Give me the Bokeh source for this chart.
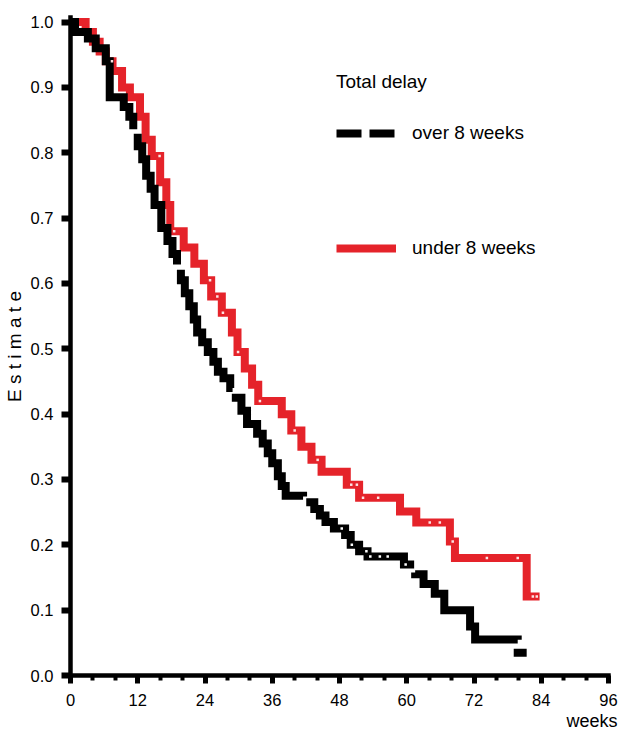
import numpy as np
from bokeh.plotting import figure
from bokeh.models import (Range1d, FixedTicker, NumeralTickFormatter, Legend,
                          LegendItem, Title)
from bokeh.embed import file_html
from bokeh.resources import INLINE

# ---------------- data ----------------
# Kaplan-Meier steps: time of each drop (weeks) and estimate after the drop
over_t = [0, 0.8, 3.1, 4.5, 6.3, 7.0, 9.5, 10.5, 11.2, 12.0, 12.8, 13.5, 14.3,
          15.0, 16.2, 17.3, 18.2, 19.0, 19.7, 20.4, 21.2, 22.0, 22.6, 23.5,
          24.5, 25.5, 26.3, 27.3, 28.5, 29.5, 30.5, 31.5, 33.3, 34.3, 35.2,
          36.0, 37.0, 37.7, 38.4, 41.5, 43.5, 44.5, 45.5, 47.0, 49.0, 50.0,
          51.5, 53.0, 59.5, 61.5, 63.0, 65.0, 66.7, 71.3, 72.2, 79.8]
over_s = [1.0, 0.985, 0.975, 0.96, 0.94, 0.885, 0.87, 0.855, 0.835, 0.81,
          0.79, 0.765, 0.745, 0.72, 0.685, 0.665, 0.645, 0.625, 0.605, 0.585,
          0.565, 0.545, 0.525, 0.51, 0.495, 0.48, 0.465, 0.455, 0.44, 0.425,
          0.405, 0.385, 0.37, 0.355, 0.34, 0.325, 0.305, 0.29, 0.275, 0.265,
          0.255, 0.245, 0.235, 0.225, 0.215, 0.2, 0.19, 0.182, 0.17, 0.155,
          0.14, 0.125, 0.10, 0.075, 0.055, 0.035]
over_end = 81.4

under_t = [0, 2.7, 4.0, 5.2, 6.3, 7.5, 9.2, 10.6, 12.4, 13.4, 14.5, 16.0,
           17.1, 17.8, 20.2, 22.1, 23.8, 25.1, 27.0, 28.8, 29.8, 31.1, 32.4,
           33.5, 37.7, 39.4, 41.2, 43.0, 44.8, 49.3, 51.5, 58.8, 61.7, 67.7,
           68.6, 81.4]
under_s = [1.0, 0.985, 0.97, 0.955, 0.94, 0.925, 0.90, 0.885, 0.855, 0.82,
           0.795, 0.755, 0.72, 0.68, 0.655, 0.63, 0.605, 0.58, 0.555, 0.525,
           0.495, 0.47, 0.445, 0.42, 0.40, 0.375, 0.35, 0.33, 0.312, 0.292,
           0.272, 0.251, 0.234, 0.205, 0.18, 0.121]
under_end = 83.7

# censored observations (weeks)
over_censor = [48.4, 50.2, 52.8, 53.5, 55.2, 56.6, 59.8]
under_censor = [7.4, 15.9, 18.5, 24.9, 26.2, 27.2, 29.9, 33.8, 40.0, 44.1,
                50.1, 51.1, 52.2, 54.9, 64.1, 65.9, 68.2, 74.3, 79.8, 82.5,
                83.2]

x_ticks = [0, 12, 24, 36, 48, 60, 72, 84, 96]
x_minor = [4, 8, 16, 20, 28, 32, 40, 44, 52, 56, 64, 68, 76, 80, 88, 92]
y_ticks = [0.0, 0.1, 0.2, 0.3, 0.4, 0.5, 0.6, 0.7, 0.8, 0.9, 1.0]

legend_title = "Total delay"
label_over = "over 8 weeks"
label_under = "under 8 weeks"
y_label = "E s t i m a t e"
x_label = "weeks"

RED = "#e5232a"
FONT = "Liberation Sans"


def step_xy(times, surv, end):
    return list(times) + [end], list(surv) + [surv[-1]]


def at(times, surv, ct):
    idx = np.searchsorted(np.asarray(times), np.asarray(ct), side="right") - 1
    return [surv[i] for i in idx]


p = figure(width=621, height=730, output_backend="svg", toolbar_location=None,
           x_range=Range1d(0, 96), y_range=Range1d(0, 1.007),
           min_border_left=70, min_border_right=13, min_border_top=17,
           min_border_bottom=54)
p.outline_line_color = None
p.grid.visible = False
p.background_fill_color = "white"

ux, uy = step_xy(under_t, under_s, under_end)
ox, oy = step_xy(over_t, over_s, over_end)

r_under = p.step(ux, uy, mode="after", line_color=RED, line_width=8,
                 line_join="miter")
r_over = p.step(ox, oy, mode="after", line_color="black", line_width=8,
                line_join="miter", line_dash="170 9")

p.scatter(under_censor, at(under_t, under_s, under_censor), marker="square",
          size=2.5, fill_color="#fbe3e3", line_color=None)
p.scatter(over_censor, at(over_t, over_s, over_censor), marker="square",
          size=2.5, fill_color="white", line_color=None)

# legend sample for the dashed series (a single NaN point: draws nothing)
r_over_key = p.line([np.nan], [np.nan], line_color="black", line_width=8,
                    line_dash="25 8")

# axes
xa = p.xaxis[0]
xa.ticker = FixedTicker(ticks=x_ticks, minor_ticks=x_minor)
xa.major_tick_out = 8
xa.major_tick_in = 0
xa.major_tick_line_width = 5
xa.minor_tick_out = 5
xa.minor_tick_in = 0
xa.minor_tick_line_width = 4
xa.minor_tick_line_color = "black"
xa.major_label_standoff = 10

ya = p.yaxis[0]
ya.ticker = FixedTicker(ticks=y_ticks)
ya.formatter = NumeralTickFormatter(format="0.0")
ya.major_tick_out = 9
ya.major_tick_in = 0
ya.major_tick_line_width = 6
ya.minor_tick_line_color = None
ya.major_label_standoff = 8
ya.axis_label = y_label
ya.axis_label_standoff = 3
ya.axis_label_text_font_size = "19px"
ya.axis_label_text_font = FONT
ya.axis_label_text_font_style = "normal"
ya.axis_label_text_color = "black"

for ax in (xa, ya):
    ax.axis_line_width = 4.5
    ax.axis_line_cap = "square"
    ax.major_label_text_font = FONT
    ax.major_label_text_font_size = "16.5px"
    ax.major_label_text_color = "black"
    ax.major_tick_line_color = "black"
    ax.axis_line_color = "black"

# x-axis title, right-aligned just past the end of the axis
p.add_layout(Title(text=x_label, align="right", offset=-9, standoff=0,
                   text_font=FONT, text_font_size="18px",
                   text_font_style="normal", text_color="black"), "below")

legend = Legend(items=[LegendItem(label=label_over, renderers=[r_over_key]),
                       LegendItem(label=label_under, renderers=[r_under])],
                title=legend_title, location=(266, 415), padding=0,
                glyph_width=60, glyph_height=24, label_height=24,
                label_standoff=16, spacing=91, title_standoff=28,
                background_fill_alpha=0, border_line_alpha=0,
                label_text_font=FONT, label_text_font_size="19px",
                label_text_color="black",
                title_text_font=FONT, title_text_font_size="19px",
                title_text_font_style="normal", title_text_color="black")
p.add_layout(legend)

open("out.html", "w").write(file_html(p, INLINE))
